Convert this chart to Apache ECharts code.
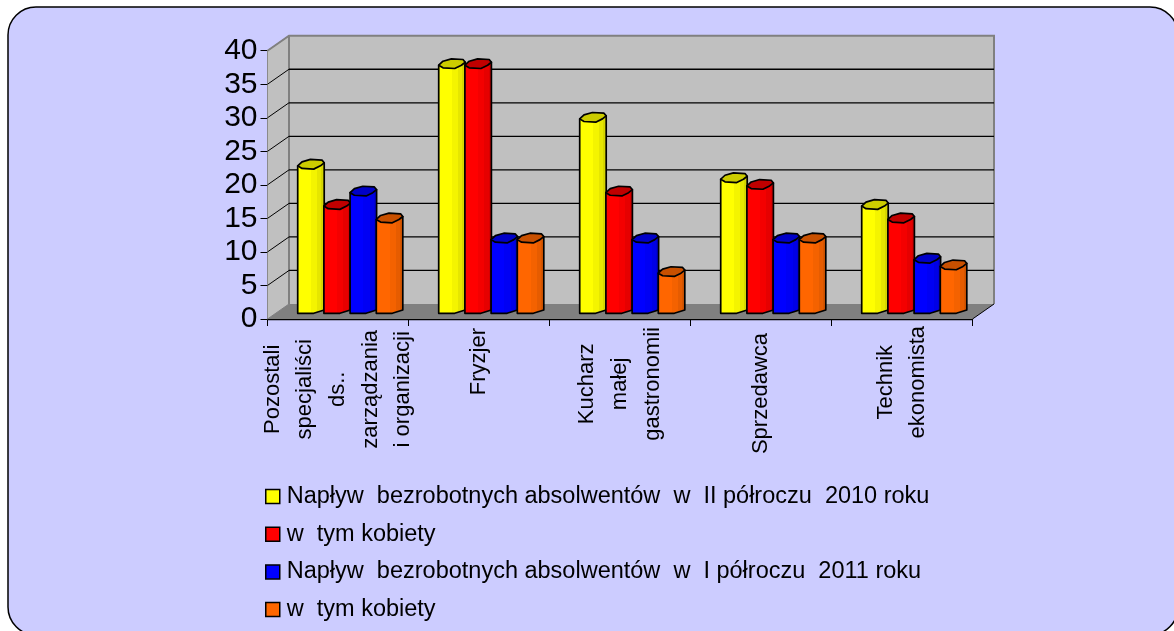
<!DOCTYPE html>
<html><head><meta charset="utf-8">
<style>html,body{margin:0;padding:0;background:#fff}#c{width:1174px;height:631px}</style>
<script src="https://cdn.jsdelivr.net/npm/echarts@6/dist/echarts.min.js"></script>
</head><body><div id="c"></div>
<script>
const categories = ['Pozostali\nspecjaliści\nds..\nzarządzania\ni organizacji','Fryzjer','Kucharz\nmałej\ngastronomii','Sprzedawca','Technik\nekonomista'];
const yTicks = [0,5,10,15,20,25,30,35,40];
const inflow2010 = [22,37,29,20,16];
const women2010 = [16,37,18,19,14];
const inflow2011 = [18,11,11,11,8];
const women2011 = [14,11,6,11,7];
const seriesNames = ['Napływ  bezrobotnych absolwentów  w  II półroczu  2010 roku','w  tym kobiety','Napływ  bezrobotnych absolwentów  w  I półroczu  2011 roku','w  tym kobiety '];
const seriesValues = [inflow2010,women2010,inflow2011,women2011];
const faceColors = [
  {bands:['#ffff00','#f4f400','#e6e600','#d6d600'],top:'#cccc00'},
  {bands:['#ff0000','#f40000','#e60000','#d60000'],top:'#c00000'},
  {bands:['#0000ff','#0000f4','#0000e6','#0000d6'],top:'#0000c8'},
  {bands:['#ff6600','#f46200','#e65c00','#d65600'],top:'#c85000'}
];
const DX=21.5, DY=-15;           // wall depth
const FONT=22;
const labelTop=[4,2,1,7,0];      // extra distance of each label block, px
const ctx=document.createElement('canvas').getContext('2d');
ctx.font=FONT+'px "Liberation Sans"';
function blockLen(s){return Math.max(...s.split('\n').map(l=>ctx.measureText(l).width));}
const chart=echarts.init(document.getElementById('c'),null,{renderer:'canvas'});

function wallItem(params,api){
  const v=api.value(0);
  const p0=api.coord([0,v]);
  const L=p0[0]-api.size([1,0])[0]/2;
  const R=L+api.size([1,0])[0]*categories.length;
  const y=p0[1];
  const lineCol=v===40?'#808080':'#000';
  const kids=[];
  if(v===0){
    const t=api.coord([0,40])[1];
    kids.push({type:'polygon',shape:{points:[[L,t],[L+DX,t+DY],[L+DX,y+DY],[L,y]]},style:{fill:'#c0c0c0'}});
    kids.push({type:'polygon',shape:{points:[[L+DX,t+DY],[R+DX,t+DY],[R+DX,y+DY],[L+DX,y+DY]]},style:{fill:'#c0c0c0'}});
    kids.push({type:'polygon',shape:{points:[[L,y],[R,y],[R+DX,y+DY],[L+DX,y+DY]]},style:{fill:'#808080'}});
    kids.push({type:'polyline',shape:{points:[[L,t],[L+DX,t+DY],[R+DX,t+DY],[R+DX,y+DY]]},style:{fill:null,stroke:'#808080',lineWidth:2}});
    kids.push({type:'line',shape:{x1:L+DX,y1:t+DY,x2:L+DX,y2:y+DY},style:{stroke:'#808080',lineWidth:2}});
    kids.push({type:'line',shape:{x1:R,y1:y,x2:R+DX,y2:y+DY},style:{stroke:'#000',lineWidth:1}});
    kids.push({type:'line',shape:{x1:L,y1:y,x2:L+DX,y2:y+DY},style:{stroke:'#808080',lineWidth:1}});
  }else{
    if(v<40) kids.push({type:'line',shape:{x1:L+DX,y1:y+DY,x2:R+DX,y2:y+DY},style:{stroke:'#000',lineWidth:1.3}});
    kids.push({type:'line',shape:{x1:L,y1:y,x2:L+DX,y2:y+DY},style:{stroke:lineCol,lineWidth:1}});
  }
  return {type:'group',children:kids};
}
function hardBands(b){
  const cuts=[0,0.5,0.72,0.87,1],st=[];
  b.forEach((c,i)=>{st.push({offset:cuts[i],color:c});st.push({offset:cuts[i+1],color:c});});
  return {type:'linear',x:0,y:0,x2:1,y2:0,colorStops:st};
}
function barItem(si){
  return function(params,api){
    const c=faceColors[si];
    const p=api.coord([api.value(0),api.value(1)]);
    const z=api.coord([api.value(0),0]);
    const band=api.size([1,0])[0];
    const x=p[0]-band*0.2858+si*band*0.1858;
    const W=26.5;
    const yF=p[1]-2.3, yB=z[1]-5.7;
    const S={stroke:'#000',lineWidth:1.7,lineJoin:'round'};
    const pts=[[0,-3.3],[4.3,-7.3],[12.7,-9.7],[24.3,-9],[26.5,-6.3],[22.7,-3.3],[16,0],[4.3,-0.7]].map(q=>[x+q[0],yF+q[1]]);
    return {type:'group',children:[
      {type:'polygon',shape:{points:[[x,yF-3.3],[x,yB],[x+16,yB],[x+W,yB-3.3],[x+W,yF-6.3]]},style:Object.assign({fill:hardBands(c.bands)},S)},
      {type:'polygon',shape:{points:pts},style:Object.assign({fill:c.top},S)}
    ]};
  };
}
const barSeries=seriesNames.map((name,si)=>({
  name,type:'custom',z:5+si,clip:false,silent:true,
  renderItem:barItem(si),
  encode:{x:0,y:1},
  itemStyle:{color:faceColors[si].bands[0],borderColor:'#000',borderWidth:1.5},
  data:seriesValues[si].map((v,i)=>[i,v])
}));
chart.setOption({
  animation:false,
  backgroundColor:'#fff',
  graphic:{elements:[{type:'rect',z:-10,silent:true,shape:{x:8,y:7,width:1170,height:628,r:28},style:{fill:'#ccccff',stroke:'#000',lineWidth:1.5}}]},
  grid:{left:267.5,right:201.5,top:50.7,bottom:312,show:false},
  xAxis:{type:'category',
    data:categories.map((s,i)=>({value:s,textStyle:{align:'center',padding:[0,blockLen(s)+2*labelTop[i],0,0]}})),
    axisLine:{lineStyle:{color:'#000',width:1.3}},
    axisTick:{show:true,length:7,lineStyle:{color:'#000',width:1}},
    axisLabel:{interval:0,rotate:90,margin:7,color:'#000',fontFamily:'Liberation Sans',fontSize:FONT,lineHeight:32.6,hideOverlap:false}},
  yAxis:{type:'value',min:0,max:40,interval:5,
    splitLine:{show:false},
    axisLine:{show:true,lineStyle:{color:'#555',width:1}},
    axisTick:{show:true,length:7,lineStyle:{color:'#000',width:1}},
    axisLabel:{color:'#000',fontFamily:'Liberation Sans',fontSize:30,margin:10,padding:[2,0,0,0]}},
  legend:{orient:'vertical',left:265,top:484.5,padding:0,itemWidth:14,itemHeight:14,itemGap:13.7,icon:'rect',selectedMode:false,
    itemStyle:{borderColor:'#000',borderWidth:1.5},
    textStyle:{color:'#000',fontFamily:'Liberation Sans',fontSize:23.5,lineHeight:24,padding:[0,0,0,2]},
    data:seriesNames},
  series:[{type:'custom',z:1,clip:false,silent:true,renderItem:wallItem,encode:{x:-1,y:0},data:yTicks.map(v=>[v])}].concat(barSeries)
});
</script></body></html>
